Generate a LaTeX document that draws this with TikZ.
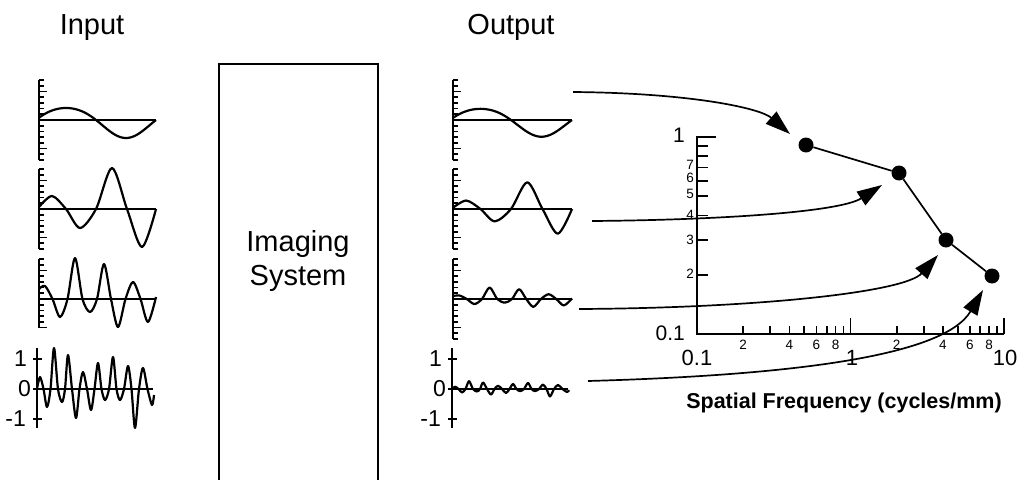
\documentclass[tikz,border=0pt]{standalone}
\usepackage{fontspec}
\setmainfont{Liberation Sans}
\usetikzlibrary{arrows.meta}
\newcommand\tickpanel[5]{%
  \begin{scope}[shift={(#1,#2)}]
    \draw[axl] (0,#3*5.7) -- (0,#4*5.7);
    \foreach \k in {#3,...,#4}{%
      \ifnum\k=0\relax\else
        \pgfmathsetmacro\tl{abs(\k)==5 ? 8 : 4.5}%
        \draw[tk] (0,\k*5.7) -- ++(\tl,0);
      \fi}
    \draw[axl] (0,0) -- (#5,0);
  \end{scope}}
\newcommand\numpanel[4]{%
  \begin{scope}[shift={(#1,#2)}]
    \draw[axl] (0,-41) -- (0,39);
    \draw[tk] (-4,-30) -- (5,-30);
    \draw[tk] (-4,30) -- (5,30);
    \draw[axl] (-4,0) -- (#3,0);
    \node[num, anchor=east] (#4one) at (-10,-30) {1};
    \node[num, anchor=east] (#4zero) at (-6,0) {0};
    \node[num, anchor=east] (#4mone) at (-11,30) {-1};
  \end{scope}}
\begin{document}
\begin{tikzpicture}[x=1pt,y=-1pt,
  wave/.style={line width=2.2pt, line join=round},
  axl/.style={line width=2pt},
  tk/.style={line width=1.7pt},
  title/.style={font=\fontsize{29}{34}\selectfont, anchor=base, inner sep=0},
  num/.style={font=\fontsize{23}{26}\selectfont, inner sep=0},
  big/.style={font=\fontsize{22}{26}\selectfont, inner sep=0},
  small/.style={font=\fontsize{13.5}{15}\selectfont, inner sep=0},
  dot/.style={circle, fill=black, minimum size=15pt, inner sep=0},
  conn/.style={line width=1.7pt},
  flow/.style={line width=1.7pt, -{Triangle[length=25pt,width=16pt]}},
]
\fill[white] (0,0) rectangle (1019,479);
\useasboundingbox (0,0) rectangle (1019,479);

% titles
\node[title] (tin) at (92,34) {Input};
\node[title] (tout) at (511,34) {Output};

% imaging system box
\draw[axl] (219,490) -- (219,64) -- (378,64) -- (378,490);
\node[title] (im1) at (298,251) {Imaging};
\node[title] (im2) at (298,285) {System};

% input panels
\tickpanel{39}{120}{-7}{7}{117}
\tickpanel{39}{209}{-7}{7}{117}
\tickpanel{39}{299}{-7}{5}{117}
\numpanel{37}{389}{116}{in}
% output panels
\tickpanel{453}{120}{-7}{7}{119}
\tickpanel{453}{209}{-7}{7}{119}
\tickpanel{453}{299}{-7}{7}{119}
\numpanel{452}{389}{116}{out}

% wave 1
\foreach \px/\sc/\xs in {39/1/1, 453/0.93/1.017}{
  \begin{scope}[shift={(\px,120)}, yscale=\sc, xscale=\xs]
    \draw[wave] plot[domain=0:117, samples=80, smooth]
      (\x, {-15*sin(3*(\x+3)) + 3*sin(3*(\x+3))*sin(3*(\x+3))});
  \end{scope}}
% wave 2
\foreach \px/\sc/\xs in {39/1/1, 453/0.65/1.017}{
  \begin{scope}[shift={(\px,209)}, yscale=\sc, xscale=\xs]
    \draw[wave] plot[smooth] coordinates {(0,-2) (13,-13) (27,0) (41,19) (57,0) (73,-41) (88,0) (103,38) (117,0)};
  \end{scope}}
% wave 3
\foreach \px/\sc/\xs in {39/1/1, 453/0.28/1.017}{
  \begin{scope}[shift={(\px,299)}, yscale=\sc, xscale=\xs]
    \draw[wave] plot[smooth] coordinates {(0,-10) (6,-13) (13.5,0) (21,18) (28.5,0) (36,-41) (43.5,0) (51,13) (58,0) (65,-35) (72,0) (79,28) (86.5,0) (94,-17) (101.5,0) (109,23) (117,-2)};
  \end{scope}}
% wave 4
\foreach \px/\sc in {37/1, 452/0.19}{
  \begin{scope}[shift={(\px,389)}, yscale=\sc]
    \draw[wave] plot[smooth] coordinates {(0,0) (3,-12) (6.5,0) (10,18) (13.5,0) (17,-41) (21,0) (25,13) (28,0) (31,-34) (35,0) (39,29) (42.5,0) (46,-17) (50,0) (54,21) (57.5,0) (61,-26) (64.5,0) (68,11) (72,0) (76,-32) (79.5,0) (83,11) (87,0) (91,-23) (94.5,0) (98,39) (102,0) (106,-21) (110.5,0) (115,16) (117,6)};
  \end{scope}}

% MTF axes
\draw[axl] (716,137) -- (697,137) -- (697,334) -- (1004,334);
\foreach \k in {2,...,9}{
  \pgfmathsetmacro\yy{334-197*log10(\k)}
  \draw[tk] (697,\yy) -- ++(11,0);
  \pgfmathsetmacro\xa{697+153.5*log10(\k)}
  \pgfmathsetmacro\xb{850.5+153.5*log10(\k)}
  \draw[tk] (\xa,334) -- ++(0,-8);
  \draw[tk] (\xb,334) -- ++(0,-8);
}
\draw[tk] (850.5,334) -- ++(0,-16);
\draw[tk] (1004,334) -- ++(0,-16);

% y labels
\node[font=\fontsize{21}{24}\selectfont, inner sep=0] (y1) at (679,135) {1};
\node[font=\fontsize{21}{24}\selectfont, inner sep=0, anchor=east] (y01) at (685,333) {0.1};
\foreach \k/\yy in {7/165, 6/178, 5/194, 4/215, 3/240, 2/274}{
  \node[small, anchor=east] (yl\k) at (694,\yy) {\k};
}
% x labels
\foreach \k in {2,4,6,8}{
  \pgfmathsetmacro\xa{697+153.5*log10(\k)}
  \pgfmathsetmacro\xb{850.5+153.5*log10(\k)}
  \node[small] (xa\k) at (\xa,345) {\k};
  \node[small] (xb\k) at (\xb,345) {\k};
}
\node[big] (x01) at (697,358) {0.1};
\node[big] (x1) at (852,358) {1};
\node[big] (x10) at (1005,358) {10};
\node[font=\bfseries\fontsize{21.5}{24}\selectfont, anchor=base, inner sep=0] (xt) at (844,408) {Spatial Frequency (cycles/mm)};

% data points
\node[dot] (p1) at (806,145) {};
\node[dot] (p2) at (899,173) {};
\node[dot] (p3) at (946,240) {};
\node[dot] (p4) at (992,276) {};
\draw[conn] (p1) -- (p2) -- (p3) -- (p4);

% arrows
\coordinate (s1) at (573,92);  \coordinate (t1) at (790,134);
\coordinate (s2) at (592,221); \coordinate (t2) at (882,185);
\coordinate (s3) at (579,309); \coordinate (t3) at (938,255);
\coordinate (s4) at (588,381); \coordinate (t4) at (983,290);
\draw[flow] (s1) .. controls (690,93) and (760,108) .. (t1);
\draw[flow] (s2) .. controls (720,220) and (840,212) .. (t2);
\draw[flow] (s3) .. controls (760,308) and (905,292) .. (t3);
\draw[flow] (s4) .. controls (800,375) and (945,355) .. (t4);
\end{tikzpicture}
\end{document}
